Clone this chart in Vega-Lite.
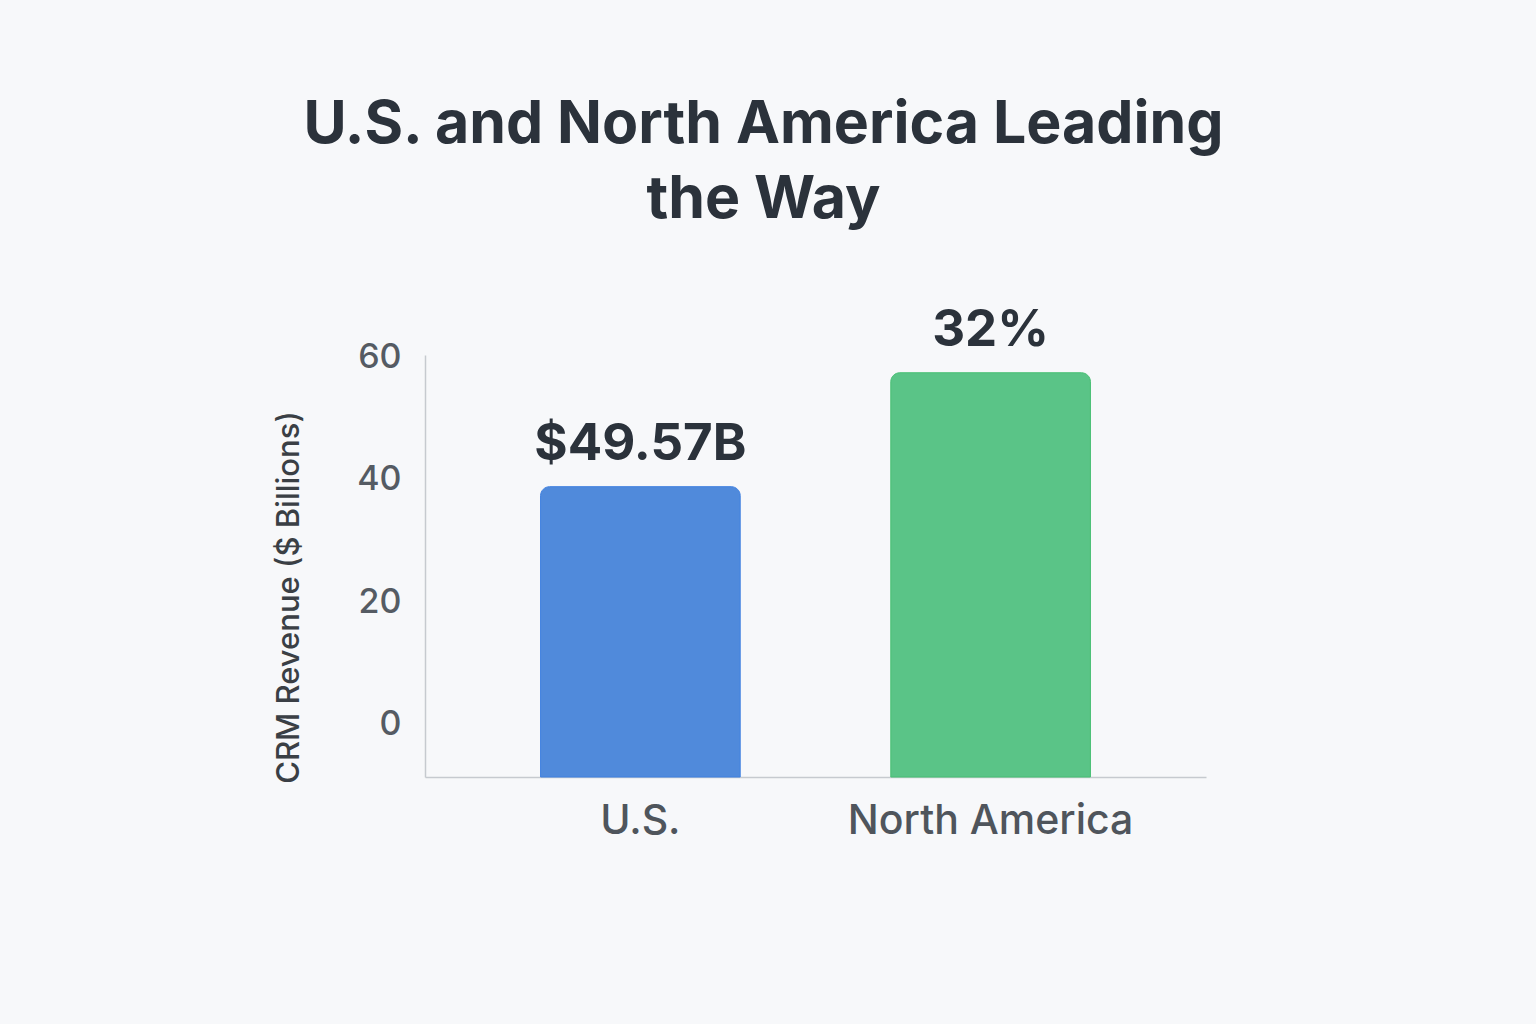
{
  "$schema": "https://vega.github.io/schema/vega-lite/v6.json",
  "autosize": "none",
  "width": 781,
  "height": 422,
  "padding": {"left": 425, "top": 355, "right": 330, "bottom": 247},
  "background": "#f7f8fa",
  "config": {
    "font": "Inter",
    "view": {"stroke": null}
  },
  "title": {
    "text": ["U.S. and North America Leading", "the Way"],
    "fontSize": 59,
    "fontWeight": 700,
    "color": "#2b323b",
    "font": "Inter",
    "anchor": "middle",
    "lineHeight": 75,
    "dx": -52,
    "offset": 75
  },
  "data": {
    "values": [
      {"region": "U.S.", "revenue": 38.9, "label": "$49.57B"},
      {"region": "North America", "revenue": 57.5, "label": "32%"}
    ]
  },
  "encoding": {
    "x": {
      "field": "region",
      "type": "nominal",
      "sort": null,
      "scale": {"paddingInner": 0.43, "paddingOuter": 0.33},
      "axis": {
        "title": null,
        "labelAngle": 0,
        "labelFontSize": 41,
        "labelFontWeight": 500,
        "labelLimit": 0,
        "labelColor": "#4f555c",
        "labelPadding": 24,
        "ticks": false,
        "domainColor": "#c6cacf",
        "domainWidth": 1.5
      }
    }
  },
  "layer": [
    {
      "mark": {
        "type": "bar",
        "cornerRadiusTopLeft": 9,
        "cornerRadiusTopRight": 9,
        "strokeWidth": 1
      },
      "encoding": {
        "y": {
          "field": "revenue",
          "type": "quantitative",
          "scale": {"domain": [-8.5, 60.4], "zero": false, "nice": false},
          "axis": {
            "title": "CRM Revenue ($ Billions)",
            "titleFontSize": 31,
            "titleFontWeight": 500,
            "titleColor": "#3a3f45",
            "titleX": -136,
            "titleY": 242,
            "titleAngle": -90,
            "titleBaseline": "middle",
            "titleAnchor": null,
            "values": [0, 20, 40, 60],
            "grid": false,
            "ticks": false,
            "labelFontSize": 34,
            "labelFontWeight": 500,
            "labelColor": "#555b63",
            "labelPadding": 24,
            "domainColor": "#c6cacf",
            "domainWidth": 1.5
          }
        },
        "y2": {"datum": -8.5},
        "color": {
          "field": "region",
          "type": "nominal",
          "scale": {"domain": ["U.S.", "North America"], "range": ["#508adb", "#5ac487"]},
          "legend": null
        },
        "stroke": {
          "field": "region",
          "type": "nominal",
          "scale": {"domain": ["U.S.", "North America"], "range": ["#3f80e0", "#46bf72"]},
          "legend": null
        }
      }
    },
    {
      "mark": {
        "type": "text",
        "fontSize": 51,
        "fontWeight": 700,
        "color": "#2b323b",
        "baseline": "alphabetic",
        "dy": -27
      },
      "encoding": {
        "y": {"field": "revenue", "type": "quantitative"},
        "text": {"field": "label"}
      }
    }
  ]
}
